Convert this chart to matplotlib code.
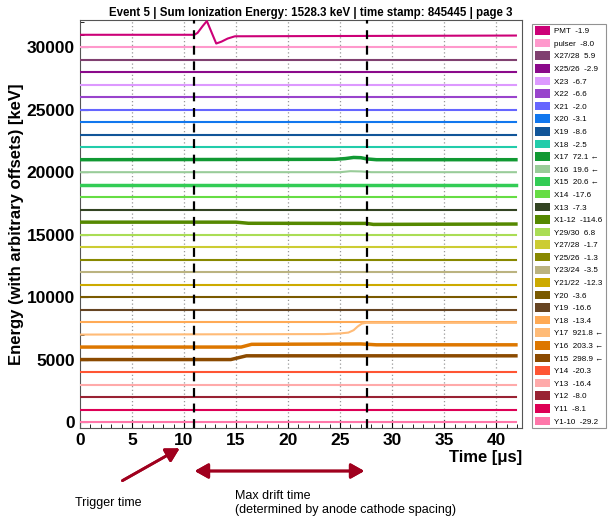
import matplotlib.pyplot as plt
from matplotlib.patches import Patch

plt.rcParams['font.family'] = ['Liberation Sans', 'DejaVu Sans']

# channels, top to bottom, with the energy shown in the legend
names = ['PMT', 'pulser', 'X27/28', 'X25/26', 'X23', 'X22', 'X21', 'X20', 'X19', 'X18',
         'X17', 'X16', 'X15', 'X14', 'X13', 'X1-12', 'Y29/30', 'Y27/28', 'Y25/26', 'Y23/24',
         'Y21/22', 'Y20', 'Y19', 'Y18', 'Y17', 'Y16', 'Y15', 'Y14', 'Y13', 'Y12', 'Y11', 'Y1-10']
energies = [-1.9, -8.0, 5.9, -2.9, -6.7, -6.6, -2.0, -3.1, -8.6, -2.5,
            72.1, 19.6, 20.6, -17.6, -7.3, -114.6, 6.8, -1.7, -1.3, -3.5,
            -12.3, -3.6, -16.6, -13.4, 921.8, 203.3, 298.9, -20.3, -16.4, -8.0, -8.1, -29.2]
hit = ['X17', 'X16', 'X15', 'Y17', 'Y16', 'Y15']
colors = ['#cc0077', '#ff99cc', '#804070', '#8b0a8b', '#dd99ff', '#9944cc', '#6666ff', '#1177ee',
          '#115599', '#22ccaa', '#119933', '#99cc99', '#33cc55', '#66dd44', '#334422', '#558800',
          '#aadd55', '#cccc33', '#888800', '#bbb380', '#ccaa00', '#7a5a00', '#664422', '#ffaa55',
          '#ffbb77', '#dd7700', '#8b4a00', '#ff5533', '#ffaaaa', '#992233', '#dd0055', '#ff77aa']
thick = ['X17', 'X15', 'X1-12', 'Y16', 'Y15']

# flat baseline, and key points of the waveforms that show a signal (keV, relative to offset)
flat_t = [0, 41.9]
flat_v = [0, 0]
pmt_t = [0, 11.0, 11.3, 11.8, 12.2, 12.6, 13.1, 13.6, 14.2, 14.9, 41.9]
pmt_v = [0, 0, 150, 700, 1100, 300, -700, -550, -300, -120, -60]
x17_t = [0, 24.5, 25.5, 26.3, 27.0, 27.6, 28.5, 41.9]
x17_v = [0, 30, 90, 180, 160, 60, 0, 0]
x16_t = [0, 25.0, 26.0, 27.0, 28.0, 41.9]
x16_v = [0, 0, 80, 60, 0, 0]
x112_t = [0, 15.0, 16.2, 27.5, 28.2, 41.9]
x112_v = [0, 0, -90, -100, -180, -150]
y17_t = [0, 23.5, 25.0, 25.8, 26.3, 26.7, 27.1, 27.5, 41.9]
y17_v = [0, 40, 90, 160, 350, 650, 880, 940, 940]
y16_t = [0, 15.5, 16.5, 27.0, 28.5, 41.9]
y16_v = [0, 0, 220, 250, 180, 180]
y15_t = [0, 14.5, 16.0, 41.9]
y15_v = [0, 0, 300, 300]
waves = {'PMT': (pmt_t, pmt_v), 'X17': (x17_t, x17_v), 'X16': (x16_t, x16_v),
         'X1-12': (x112_t, x112_v), 'Y17': (y17_t, y17_v), 'Y16': (y16_t, y16_v),
         'Y15': (y15_t, y15_v)}

trigger_t = 11.0
drift_end_t = 27.6

fig = plt.figure(figsize=(6.1, 5.21), dpi=100)
ax = fig.add_axes([0.131, 0.178, 0.725, 0.784])

n = len(names)
for i, name in enumerate(names):
    offset = (n - 1 - i) * 1000
    t, v = waves.get(name, (flat_t, flat_v))
    lw = 2.5 if name in thick else 1.5
    ax.plot(t, [offset + e for e in v], color=colors[i], lw=lw, zorder=3)

for xg in range(5, 45, 5):
    ax.axvline(xg, color='#999999', ls=(0, (1, 2)), lw=0.9, zorder=1)
ax.axvline(trigger_t, color='black', ls=(0, (4, 3)), lw=1.6, zorder=4)
ax.axvline(drift_end_t, color='black', ls=(0, (4, 3)), lw=1.6, zorder=4)

ax.set_xlim(0, 42.5)
ax.set_ylim(-500, 32200)
ax.set_xticks(range(0, 45, 5))
ax.set_yticks(range(0, 35000, 5000))
ax.minorticks_on()
ax.tick_params(which='both', direction='in', top=False, right=False)
ax.tick_params(which='major', length=6, labelsize=12.5)
ax.tick_params(which='minor', length=3)
for lab in ax.get_xticklabels() + ax.get_yticklabels():
    lab.set_fontweight('bold')
for s in ax.spines.values():
    s.set_color('#555555')

ax.set_ylabel('Energy (with arbitrary offsets) [keV]', fontsize=12, fontweight='bold', labelpad=2)
ax.set_xlabel('Time [\u03bcs]', fontsize=12, fontweight='bold', loc='right', labelpad=1)
ax.set_title('Event 5 | Sum Ionization Energy: 1528.3 keV | time stamp: 845445 | page 3',
             fontsize=8.3, fontweight='bold', pad=3, x=0.523)

handles = []
for i, name in enumerate(names):
    label = f'{name}  {energies[i]:.1f}'
    if name in hit:
        label += ' \u2190'
    handles.append(Patch(facecolor=colors[i], edgecolor='none', label=label))
leg = fig.legend(handles=handles, loc='upper left', bbox_to_anchor=(0.866, 0.962),
                 fontsize=5.8, handlelength=1.9, handleheight=1.25, labelspacing=0.45,
                 handletextpad=0.5, borderpad=0.3, frameon=True, fancybox=False)
leg.get_frame().set_edgecolor('#777777')
leg.get_frame().set_linewidth(0.8)

red = '#a0001e'
fig.add_artist(plt.annotate('', xy=(182, 74), xytext=(120, 39), xycoords='figure pixels',
                            textcoords='figure pixels',
                            arrowprops=dict(arrowstyle='-|>,head_length=0.8,head_width=0.45',
                                            color=red, lw=2)))
fig.add_artist(plt.annotate('', xy=(367, 50), xytext=(192, 50), xycoords='figure pixels',
                            textcoords='figure pixels',
                            arrowprops=dict(arrowstyle='<|-|>,head_length=0.8,head_width=0.45',
                                            color=red, lw=2)))
fig.text(75, 18, 'Trigger time', transform=None, fontsize=9, va='center')
fig.text(235, 18, 'Max drift time\n(determined by anode cathode spacing)', transform=None,
         fontsize=9, va='center', linespacing=1.2)

fig.savefig('out.png', dpi=100)
